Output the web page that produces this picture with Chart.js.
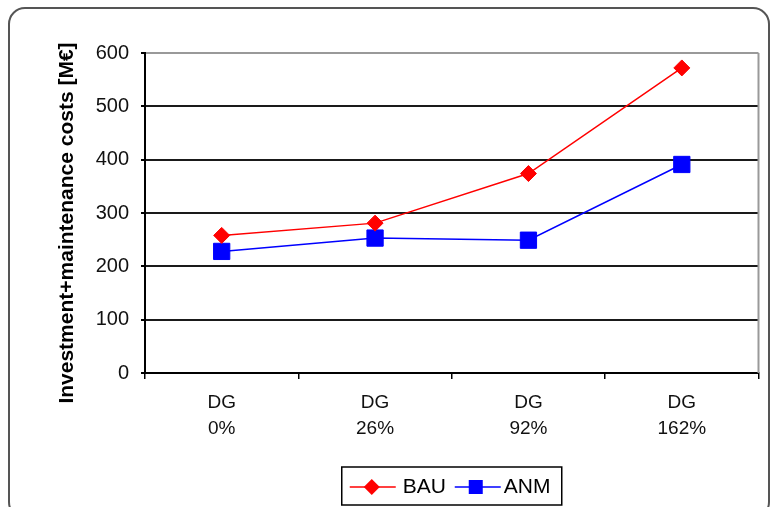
<!DOCTYPE html>
<html>
<head>
<meta charset="utf-8">
<script src="https://cdn.jsdelivr.net/npm/chart.js@4"></script>
<style>
  html, body { margin: 0; padding: 0; background: #fff; }
  #wrap { position: absolute; left: 0; top: 0; width: 771px; height: 507px; }
</style>
</head>
<body>
<div id="wrap"><canvas id="costChart" width="771" height="507"></canvas></div>
<script>
// chart data
const categories = [['DG', '0%'], ['DG', '26%'], ['DG', '92%'], ['DG', '162%']];
const bauValues = [258, 281, 374, 572];
const anmValues = [228, 253, 249, 391];
const yTicks = [0, 100, 200, 300, 400, 500, 600];
const yTitle = 'Investment+maintenance costs [M€]';

const FONT = '"Liberation Sans", Arial, sans-serif';

// outer rounded frame, plot borders, y title and the legend box
const framePlugin = {
  id: 'frame',
  beforeDraw(chart) {
    const ctx = chart.ctx;
    ctx.save();
    ctx.fillStyle = '#fff';
    ctx.fillRect(0, 0, chart.width, chart.height);
    ctx.strokeStyle = '#555';
    ctx.lineWidth = 2;
    ctx.beginPath();
    ctx.roundRect(9, 8, 760, 510, 16);
    ctx.stroke();
    ctx.restore();
  },
  afterDatasetsDraw(chart) {
    const ctx = chart.ctx;
    const a = chart.chartArea;
    ctx.save();
    ctx.strokeStyle = '#999';
    ctx.lineWidth = 2;
    ctx.beginPath();
    ctx.moveTo(a.right, a.top);
    ctx.lineTo(a.right, a.bottom);
    ctx.stroke();
    ctx.restore();
  },
  afterDraw(chart) {
    const ctx = chart.ctx;
    const a = chart.chartArea;

    // axis title, sits a bit below the centre of the axis like the original
    ctx.save();
    ctx.translate(67, (a.top + a.bottom) / 2 + 10);
    ctx.rotate(-Math.PI / 2);
    ctx.fillStyle = '#000';
    ctx.font = 'bold 21px ' + FONT;
    ctx.textAlign = 'center';
    ctx.textBaseline = 'middle';
    ctx.fillText(yTitle, 0, 0);
    ctx.restore();

    const cx = (a.left + a.right) / 2;
    const bx = cx - 110, by = a.bottom + 94, bw = 220, bh = 38;
    const my = by + bh / 2 + 1;
    ctx.save();
    ctx.strokeStyle = '#000';
    ctx.lineWidth = 1.5;
    ctx.strokeRect(bx, by, bw, bh);

    // BAU
    ctx.strokeStyle = '#ff0000';
    ctx.lineWidth = 1.5;
    ctx.beginPath();
    ctx.moveTo(bx + 8, my);
    ctx.lineTo(bx + 54, my);
    ctx.stroke();
    ctx.fillStyle = '#ff0000';
    ctx.beginPath();
    ctx.moveTo(bx + 30, my - 8);
    ctx.lineTo(bx + 38, my);
    ctx.lineTo(bx + 30, my + 8);
    ctx.lineTo(bx + 22, my);
    ctx.closePath();
    ctx.fill();

    // ANM
    ctx.strokeStyle = '#0000ff';
    ctx.beginPath();
    ctx.moveTo(bx + 113, my);
    ctx.lineTo(bx + 159, my);
    ctx.stroke();
    ctx.fillStyle = '#0000ff';
    ctx.fillRect(bx + 127, my - 7, 14, 14);

    ctx.fillStyle = '#000';
    ctx.font = '21px ' + FONT;
    ctx.textBaseline = 'middle';
    ctx.textAlign = 'left';
    ctx.fillText('BAU', bx + 61, my);
    ctx.fillText('ANM', bx + 162, my);
    ctx.restore();
  }
};

const costChartConfig = {
  type: 'line',
  data: {
    labels: categories,
    datasets: [{
      label: 'BAU',
      data: bauValues,
      borderColor: '#ff0000',
      backgroundColor: '#ff0000',
      borderWidth: 1.5,
      pointStyle: 'rectRot',
      pointRadius: 8,
      pointBorderWidth: 1,
      pointBorderColor: '#ff0000',
      pointBackgroundColor: '#ff0000',
      tension: 0
    },
    {
      label: 'ANM',
      data: anmValues,
      borderColor: '#0000ff',
      backgroundColor: '#0000ff',
      borderWidth: 1.5,
      pointStyle: 'rect',
      pointRadius: 11.5,
      pointBorderWidth: 1,
      pointBorderColor: '#0000ff',
      pointBackgroundColor: '#0000ff',
      tension: 0
    }]
  },
  options: {
    responsive: false,
    animation: false,
    layout: { padding: { left: 0, right: 9, top: 53, bottom: 0 } },
    plugins: {
      legend: { display: false },
      tooltip: { enabled: false }
    },
    scales: {
      x: {
        offset: true,
        grid: {
          offset: true,
          drawOnChartArea: false,
          drawTicks: true,
          tickLength: 6,
          color: '#000',
          lineWidth: 1.5
        },
        border: { color: '#000', width: 2 },
        ticks: {
          color: '#111',
          padding: 11,
          maxRotation: 0,
          font: { family: FONT, size: 19, lineHeight: 26 / 19 }
        },
        afterFit(scale) { scale.height = 134; }
      },
      y: {
        min: 0,
        max: 600,
        afterBuildTicks(scale) { scale.ticks = yTicks.map(v => ({ value: v })); },
        grid: {
          color: ctx => (ctx.tick && ctx.tick.value === 600) ? '#999' : '#1a1a1a',
          lineWidth: 2,
          drawTicks: true,
          tickLength: 4,
          tickColor: '#000'
        },
        border: { color: '#000', width: 2 },
        ticks: {
          color: '#111',
          padding: 12,
          font: { family: FONT, size: 20 }
        },
        afterFit(scale) { scale.width = 145; }
      }
    }
  },
  plugins: [framePlugin]
};

const costChartCanvas = document.getElementById('costChart');
const costChart = new Chart(costChartCanvas, costChartConfig);
</script>
</body>
</html>
